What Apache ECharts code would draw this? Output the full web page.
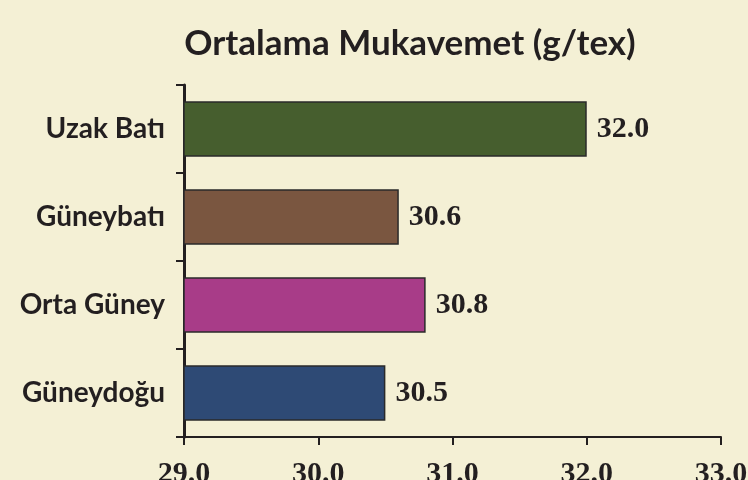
<!DOCTYPE html>
<html><head><meta charset="utf-8">
<script src="https://cdn.jsdelivr.net/npm/echarts@6/dist/echarts.min.js"></script>
<style>html,body{margin:0;padding:0;background:#F4F0D5;}#c{width:748px;height:480px;}</style>
</head><body><div id="c"></div>
<script>
const categories = ['Uzak Batı', 'Güneybatı', 'Orta Güney', 'Güneydoğu'];
const values = [32.0, 30.6, 30.8, 30.5];
const barColors = ['#465E2E', '#7A5640', '#A83C88', '#2E4A75'];
const xTicks = [29.0, 30.0, 31.0, 32.0, 33.0];
const titleText = 'Ortalama Mukavemet (g/tex)';

const chart = echarts.init(document.getElementById('c'), null, {renderer: 'canvas'});
chart.setOption({
  backgroundColor: '#F4F0D5',
  animation: false,
  title: {
    text: titleText,
    left: 405, top: 21, textAlign: 'center',
    textStyle: {fontFamily: 'Lato', fontWeight: 'bold', fontSize: 35, color: '#231F20'}
  },
  grid: {left: 184, right: 27, top: 85, bottom: 43, containLabel: false, outerBoundsMode: 'none'},
  xAxis: {
    type: 'value', min: xTicks[0], max: xTicks[xTicks.length - 1], interval: 1,
    splitLine: {show: false},
    axisLine: {show: true, lineStyle: {color: '#231F20', width: 2}},
    axisTick: {show: true, length: 8, lineStyle: {color: '#231F20', width: 2}},
    axisLabel: {margin: 22, fontFamily: 'Liberation Serif', fontWeight: 'bold', fontSize: 30, color: '#231F20',
      formatter: v => v.toFixed(1)}
  },
  yAxis: {
    type: 'category', data: categories, inverse: true,
    axisLine: {show: true, lineStyle: {color: '#231F20', width: 3}},
    axisTick: {show: true, length: 8, lineStyle: {color: '#231F20', width: 2}},
    axisLabel: {margin: 19, fontFamily: 'Lato', fontWeight: 'bold', fontSize: 28, color: '#231F20'}
  },
  series: [{
    type: 'bar',
    data: values.map((v, i) => ({value: v, itemStyle: {color: barColors[i]}})),
    barCategoryGap: '37%',
    itemStyle: {borderColor: '#2A2A2A', borderWidth: 1.5},
    label: {show: true, position: 'right', distance: 10, fontFamily: 'Liberation Serif', fontWeight: 'bold',
      fontSize: 30, color: '#231F20', formatter: p => p.value.toFixed(1)}
  }]
});
</script></body></html>
